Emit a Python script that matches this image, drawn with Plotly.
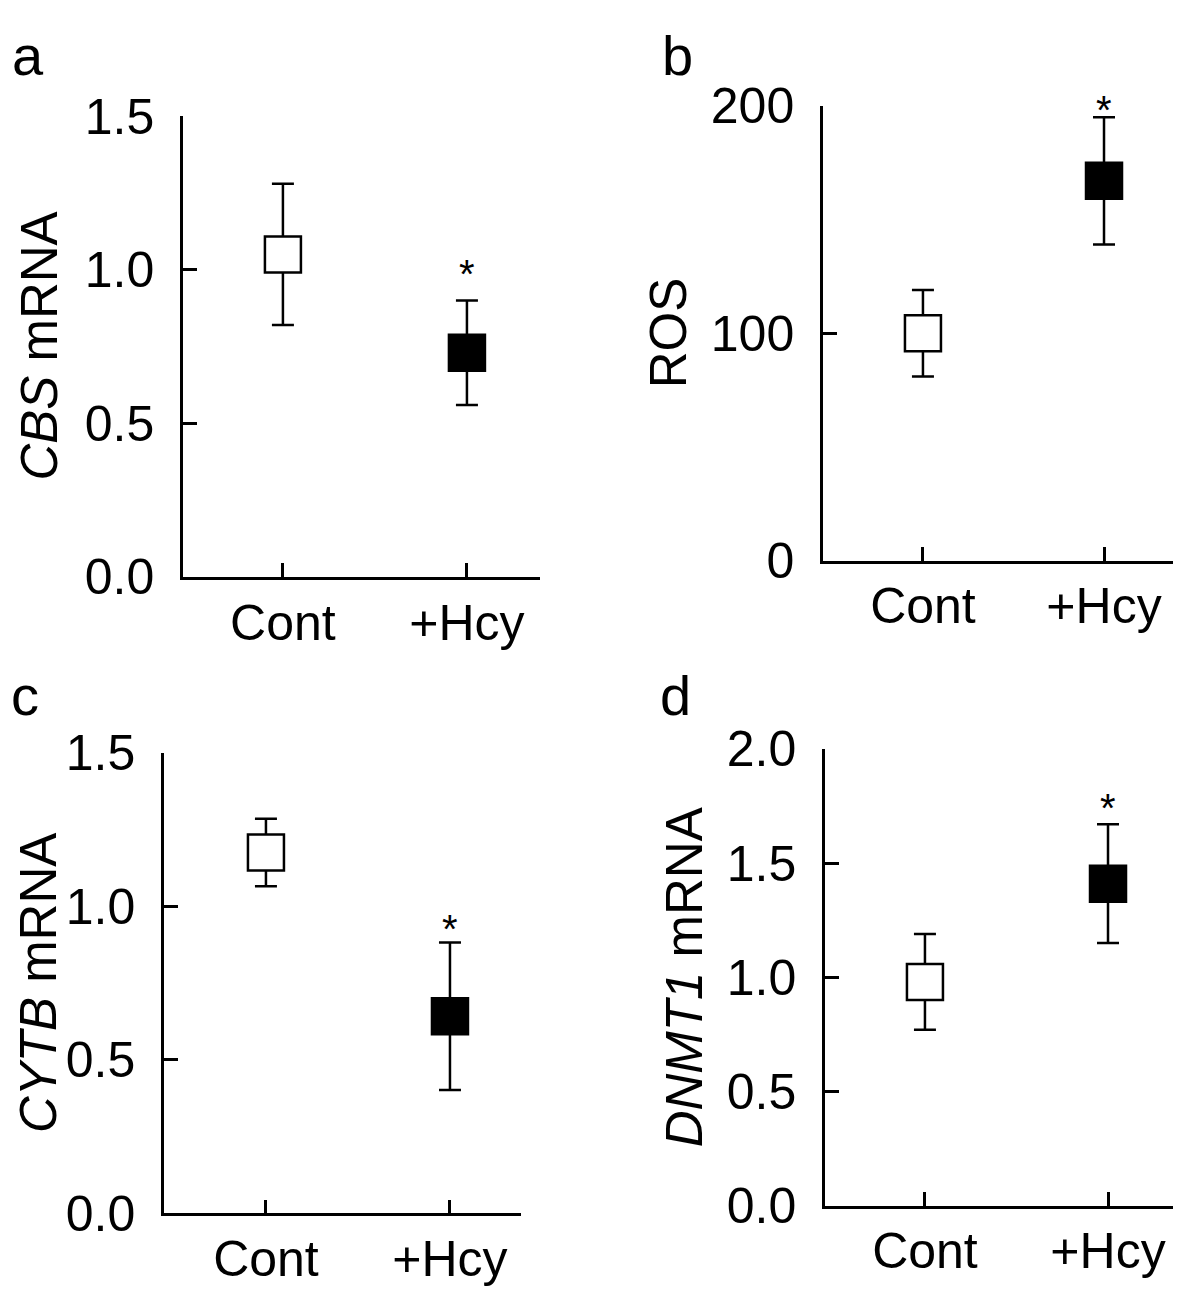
import plotly.graph_objects as go

groups = ["Cont", "+Hcy"]

a_mean = [1.05, 0.73]
a_err = [0.23, 0.17]
b_mean = [100, 167]
b_err = [19, 28]
c_mean = [1.175, 0.642]
c_err = [0.11, 0.24]
d_mean = [0.98, 1.41]
d_err = [0.21, 0.26]

a_ticks = [0.0, 0.5, 1.0, 1.5]
b_ticks = [0, 100, 200]
c_ticks = [0.0, 0.5, 1.0, 1.5]
d_ticks = [0.0, 0.5, 1.0, 1.5, 2.0]

# significance marks (y position in data units, above the +Hcy error bar)
a_star = [None, 1.0]
b_star = [None, 199.9]
c_star = [None, 0.94]
d_star = [None, 1.76]

# page has an 8px body margin, so the figure is sized to fit inside it
W, H = 1165, 1286
FONT = "Liberation Sans, Arial, sans-serif"

panels = [
    dict(letter="a", title="<i>CBS</i> mRNA", mean=a_mean, err=a_err, ticks=a_ticks, star=a_star,
         fmt="{:.1f}", yr=[0, 1.5], px=(175, 532), py=(566, 84), xr=[-0.543, 1.397],
         letter_pos=(20, 20), title_x=32),
    dict(letter="b", title="ROS", mean=b_mean, err=b_err, ticks=b_ticks, star=b_star,
         fmt="{:d}", yr=[0, 200], px=(815, 1165), py=(549, 73), xr=[-0.552, 1.381],
         letter_pos=(669, 20), title_x=660),
    dict(letter="c", title="<i>CYTB</i> mRNA", mean=c_mean, err=c_err, ticks=c_ticks, star=c_star,
         fmt="{:.1f}", yr=[0, 1.5], px=(156, 513), py=(1232, 750), xr=[-0.554, 1.386],
         letter_pos=(17, 690), title_x=30),
    dict(letter="d", title="<i>DNMT1</i> mRNA", mean=d_mean, err=d_err, ticks=d_ticks, star=d_star,
         fmt="{:.1f}", yr=[0, 2.0], px=(817, 1165), py=(1224, 746), xr=[-0.546, 1.355],
         letter_pos=(667, 690), title_x=676),
]

fig = go.Figure()
annotations = []
for i, p in enumerate(panels):
    n = "" if i == 0 else str(i + 1)
    xa = "x" + n
    ya = "y" + n
    xpos = [0, 1]
    fig.add_trace(go.Scatter(
        x=xpos, y=p["mean"], mode="markers", xaxis=xa, yaxis=ya,
        marker=dict(symbol="square", size=36, color=["white", "black"],
                    line=dict(color="black", width=2.5)),
        error_y=dict(type="data", array=p["err"], visible=True, color="black",
                     thickness=2.5, width=11),
        showlegend=False, cliponaxis=False, hoverinfo="skip",
    ))
    x0, x1 = p["px"][0] / W, min(p["px"][1] / W, 1.0)
    y0, y1 = 1 - p["py"][0] / H, 1 - p["py"][1] / H
    axis_common = dict(showline=True, linecolor="black", linewidth=2.5,
                       ticks="inside", tickcolor="black", tickwidth=2.5, ticklen=14,
                       showgrid=False, zeroline=False,
                       tickfont=dict(family=FONT, size=50, color="black"))
    fig.update_layout(**{
        ("xaxis" + n): dict(domain=[x0, x1], range=p["xr"], anchor=ya,
                            tickvals=xpos, ticktext=groups, **axis_common),
        ("yaxis" + n): dict(domain=[y0, y1], range=p["yr"], anchor=xa,
                            tickvals=p["ticks"],
                            ticktext=[p["fmt"].format(t) for t in p["ticks"]],
                            ticklabelstandoff=16, **axis_common),
    })
    for xi, s in zip(xpos, p["star"]):
        if s is not None:
            annotations.append(dict(text="*", x=xi, y=s, xref=xa, yref=ya, showarrow=False,
                                    font=dict(family=FONT, size=40, color="black"),
                                    xanchor="center", yanchor="middle", yshift=-4))
    annotations.append(dict(text=p["letter"], x=p["letter_pos"][0] / W, y=1 - p["letter_pos"][1] / H,
                            xref="paper", yref="paper", showarrow=False,
                            font=dict(family=FONT, size=56, color="black"),
                            xanchor="center", yanchor="middle"))
    annotations.append(dict(text=p["title"], x=p["title_x"] / W, y=(y0 + y1) / 2,
                            xref="paper", yref="paper", showarrow=False, textangle=-90,
                            font=dict(family=FONT, size=51, color="black"),
                            xanchor="center", yanchor="middle"))

fig.update_layout(width=W, height=H, margin=dict(l=0, r=0, t=0, b=0),
                  plot_bgcolor="white", paper_bgcolor="white",
                  annotations=annotations)
fig.write_html("out.html")
